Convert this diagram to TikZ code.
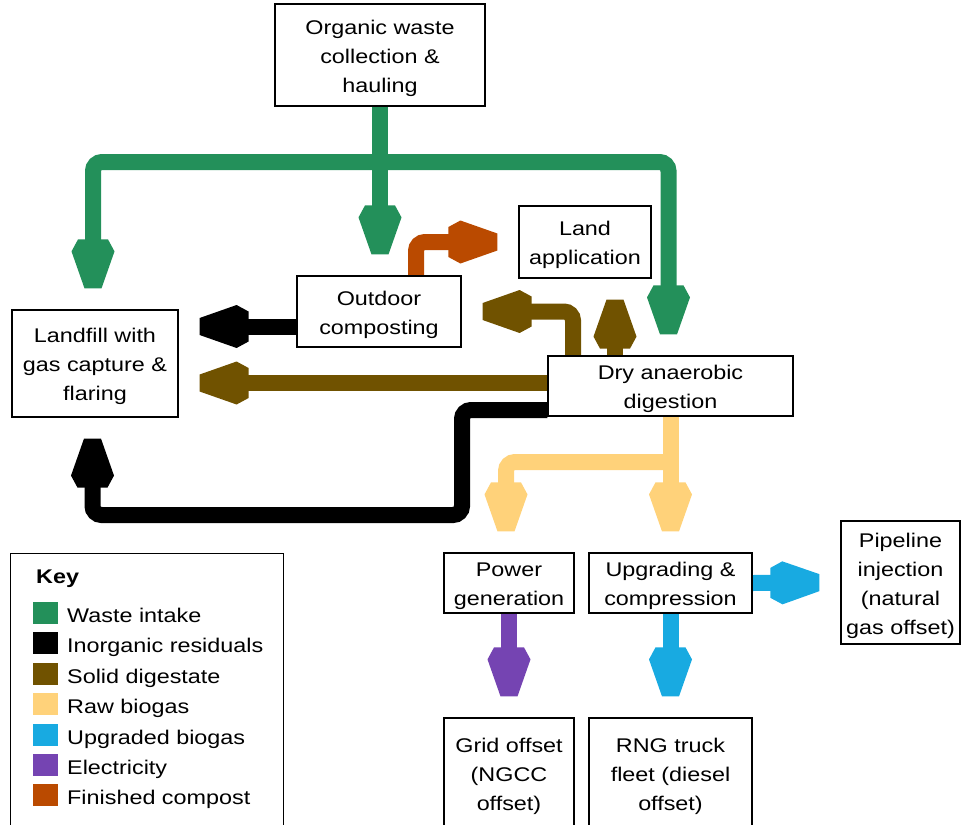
\documentclass[tikz,border=0pt]{standalone}
\usepackage{fontspec}
\setmainfont{Liberation Sans}[FakeStretch=1.18]
\usetikzlibrary{backgrounds}

\definecolor{waste}{HTML}{23905A}
\definecolor{resid}{HTML}{000000}
\definecolor{digest}{HTML}{705200}
\definecolor{raw}{HTML}{FFD27A}
\definecolor{upgr}{HTML}{18AAE1}
\definecolor{elec}{HTML}{7544B2}
\definecolor{compost}{HTML}{BA4A00}

\newcommand\boxfont{\fontsize{19.8pt}{29pt}\selectfont}

% Hexagonal block arrow head used on every flow
\pgfdeclarearrow{
  name = Hex,
  setup code = {
    \pgfarrowssettipend{0pt}
    \pgfarrowssetlineend{-40pt}
    \pgfarrowssetvisualbackend{-49pt}
    \pgfarrowssetbackend{-49pt}
    \pgfarrowshullpoint{0pt}{8.5pt}
    \pgfarrowshullpoint{0pt}{-8.5pt}
    \pgfarrowshullpoint{-37pt}{21.5pt}
    \pgfarrowshullpoint{-37pt}{-21.5pt}
    \pgfarrowshullpoint{-49pt}{15pt}
    \pgfarrowshullpoint{-49pt}{-15pt}
  },
  drawing code = {
    \pgfpathmoveto{\pgfqpoint{0pt}{8.5pt}}
    \pgfpathlineto{\pgfqpoint{-37pt}{21.5pt}}
    \pgfpathlineto{\pgfqpoint{-49pt}{15pt}}
    \pgfpathlineto{\pgfqpoint{-49pt}{-15pt}}
    \pgfpathlineto{\pgfqpoint{-37pt}{-21.5pt}}
    \pgfpathlineto{\pgfqpoint{0pt}{-8.5pt}}
    \pgfpathclose
    \pgfusepathqfill
  }
}

\tikzset{
  box/.style={draw, line width=1.2pt, fill=white, inner sep=0pt},
  boxtext/.style={align=center, font=\boxfont, inner sep=0pt, yshift=-3pt},
  flow/.style={line width=16pt, -Hex, rounded corners=9pt, shorten >=21pt},
  keytext/.style={anchor=base west, inner sep=0pt, font=\boxfont},
}

\begin{document}
\begin{tikzpicture}[x=1pt, y=-1pt]
\useasboundingbox (0,0) rectangle (962,825);
\clip (0,0) rectangle (962,825);

% process boxes
\node[box, minimum width=210pt, minimum height=102pt,
  label={[boxtext]center:{Organic waste\\collection \&\\hauling}}] (org) at (380,55) {};
\node[box, minimum width=132pt, minimum height=72pt,
  label={[boxtext]center:{Land\\application}}] (land) at (585,242) {};
\node[box, minimum width=164pt, minimum height=71pt,
  label={[boxtext]center:{Outdoor\\composting}}] (comp) at (379,311.5) {};
\node[box, minimum width=166pt, minimum height=107pt,
  label={[boxtext]center:{Landfill with\\gas capture \&\\flaring}}] (landfill) at (95,363.5) {};
\node[box, minimum width=245pt, minimum height=60pt,
  label={[boxtext]center:{Dry anaerobic\\digestion}}] (dad) at (670.5,386) {};
\node[box, minimum width=130pt, minimum height=60pt,
  label={[boxtext]center:{Power\\generation}}] (power) at (509,583) {};
\node[box, minimum width=163pt, minimum height=60pt,
  label={[boxtext]center:{Upgrading \&\\compression}}] (upg) at (670.5,583) {};
\node[box, minimum width=119pt, minimum height=123pt,
  label={[boxtext]center:{Pipeline\\injection\\(natural\\gas offset)}}] (pipe) at (900.5,582.5) {};
\node[box, minimum width=130pt, minimum height=111pt,
  label={[boxtext]center:{Grid offset\\(NGCC\\offset)}}] (grid) at (509,773.5) {};
\node[box, minimum width=163pt, minimum height=111pt,
  label={[boxtext]center:{RNG truck\\fleet (diesel\\offset)}}] (rng) at (670.5,773.5) {};

% key
\node[draw, line width=1.2pt, anchor=north west, minimum width=273pt,
  minimum height=290pt, inner sep=0pt] (key) at (10,553) {};
\node[keytext, font=\boxfont\bfseries] (keytitle) at (36,583) {Key};
\foreach \c/\t [count=\i from 0] in {waste/Waste intake,
    resid/Inorganic residuals, digest/Solid digestate, raw/Raw biogas,
    upgr/Upgraded biogas, elec/Electricity, compost/Finished compost}{
  \pgfmathsetmacro\yy{613+30.4*\i}
  \fill[\c] (33,\yy-11) rectangle (58,\yy+11);
  \node[keytext] (key\i) at (67,\yy+9.5) {\t};
}

\coordinate (wbar) at (0,162);
\coordinate (ybar) at (0,462);
\coordinate (rb) at (462,515);

\begin{pgfonlayer}{background}
  % waste intake
  \draw[flow, waste] (org.south) -- (org.south |- comp.north);
  \draw[flow, waste] ([xshift=8pt]org.south |- wbar) -| ([xshift=-2pt]landfill.north);
  \draw[flow, waste] ([xshift=-8pt]org.south |- wbar) -| ([xshift=-2pt]dad.north);
  % finished compost
  \draw[flow, compost] ([xshift=37pt]comp.north) |- (land.west);
  % inorganic residuals
  \draw[flow, resid] ([yshift=-15pt]comp.west) -- ([yshift=-15pt]comp.west -| landfill.east);
  \draw[flow, resid] ([yshift=-24pt]dad.west) -| (rb) -| ([xshift=-2.5pt]landfill.south);
  % solid digestate
  \draw[flow, digest] ([yshift=3pt]dad.west) -- ([yshift=3pt]dad.west -| landfill.east);
  \draw[flow, digest] ([xshift=-97.5pt]dad.north) |- (comp.east);
  \draw[flow, digest] ([xshift=-55.5pt]dad.north) -- ([xshift=-55.5pt]dad.north |- land.south);
  % raw biogas
  \draw[flow, raw] (dad.south) -- (upg.north);
  \draw[flow, raw] ([xshift=8pt]dad.south |- ybar) -| ([xshift=-3pt]power.north);
  % electricity and upgraded biogas
  \draw[flow, elec] (power.south) -- (grid.north);
  \draw[flow, upgr] (upg.south) -- (rng.north);
  \draw[flow, upgr] (upg.east) -- (pipe.west);
\end{pgfonlayer}
\end{tikzpicture}
\end{document}
